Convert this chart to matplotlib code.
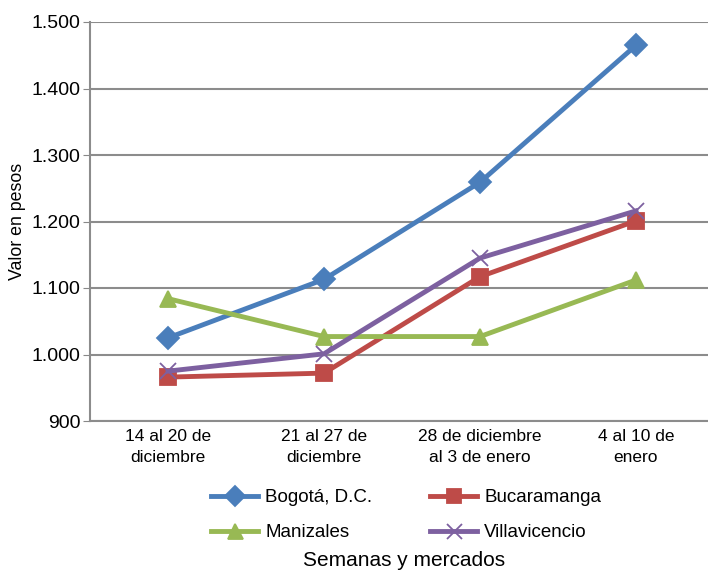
import matplotlib
matplotlib.use("Agg")
from matplotlib import pyplot as plt
from matplotlib.ticker import FuncFormatter, MultipleLocator

plt.rcParams['font.family'] = ['Liberation Sans', 'DejaVu Sans']

weeks = ["14 al 20 de\ndiciembre", "21 al 27 de\ndiciembre",
         "28 de diciembre\nal 3 de enero", "4 al 10 de\nenero"]

bogota = [1025, 1113, 1259, 1465]
bucaramanga = [966, 972, 1117, 1201]
manizales = [1084, 1027, 1027, 1112]
villavicencio = [975, 1001, 1145, 1216]

series = [
    ("Bogotá, D.C.", bogota, "#4A7EBB", "D", 11),
    ("Bucaramanga", bucaramanga, "#BE4B48", "s", 11),
    ("Manizales", manizales, "#98B954", "^", 12),
    ("Villavicencio", villavicencio, "#7D60A0", "x", 12),
]

fig = plt.figure(figsize=(7.08, 5.71), dpi=100)
ax = fig.add_axes([90 / 708, 150 / 571, 624 / 708, 399 / 571])

x = list(range(len(weeks)))
lines = {}
for name, vals, color, marker, ms in series:
    ln, = ax.plot(x, vals, color=color, lw=3.5, marker=marker, markersize=ms,
                  markeredgewidth=1.3, label=name)
    lines[name] = ln

ax.set_xlim(-0.5, 3.5)
ax.set_ylim(900, 1500)
ax.yaxis.set_major_locator(MultipleLocator(100))
ax.yaxis.set_major_formatter(FuncFormatter(lambda v, p: f"{v:,.0f}".replace(",", ".")))
ax.set_xticks(x)
ax.set_xticklabels(weeks, fontsize=12.5, linespacing=1.45)
ax.tick_params(axis="x", length=0, pad=6)
ax.tick_params(axis="y", length=5, color="#888888", labelsize=14, pad=2)
ax.grid(axis="y", color="#8c8c8c", lw=1.5)
ax.set_axisbelow(True)
for s in ["top", "right"]:
    ax.spines[s].set_visible(False)
for s in ["left", "bottom"]:
    ax.spines[s].set_color("#8c8c8c")
    ax.spines[s].set_linewidth(1.5)

ax.set_ylabel("Valor en pesos", fontsize=12.8, labelpad=4)

# row-major order like the original legend
order = ["Bogotá, D.C.", "Manizales", "Bucaramanga", "Villavicencio"]
fig.legend([lines[n] for n in order], order, loc="upper left",
           bbox_to_anchor=(202 / 708, 1 - 480 / 571), ncol=2, borderpad=0,
           frameon=False, fontsize=13.5, handlelength=2.5, columnspacing=3.1,
           labelspacing=0.95, handletextpad=0.37, markerscale=0.9)
fig.text(404 / 708, 1 - 561 / 571, "Semanas y mercados", ha="center", va="center",
         fontsize=15)

fig.savefig("out.png", dpi=100)
